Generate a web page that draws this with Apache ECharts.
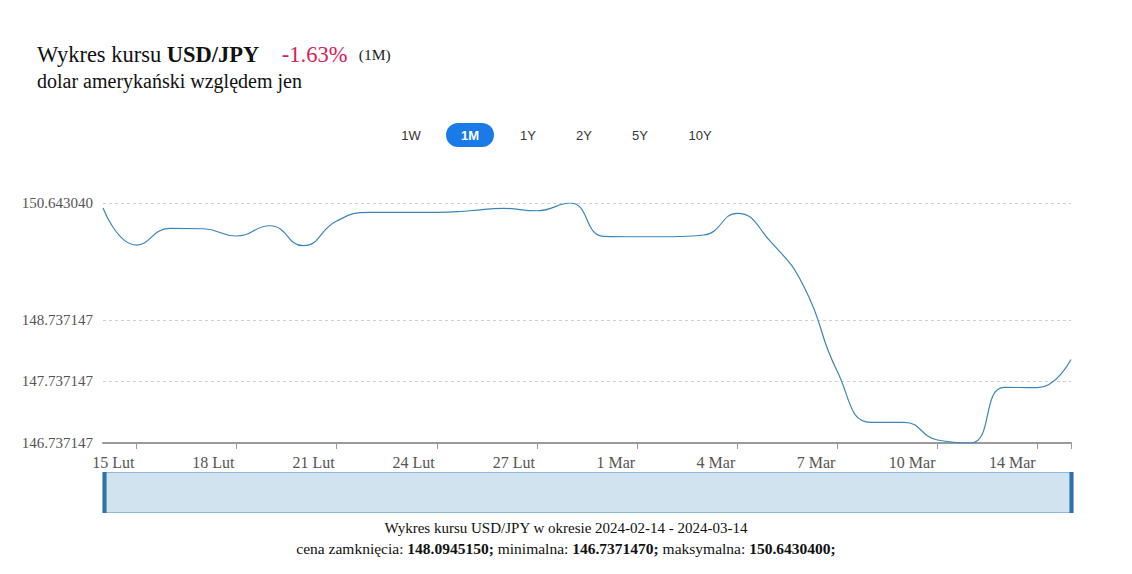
<!DOCTYPE html>
<html>
<head>
<meta charset="utf-8">
<script src="https://cdn.jsdelivr.net/npm/echarts@6/dist/echarts.min.js"></script>
<style>
html,body{margin:0;padding:0;background:#fff;}
#chart{width:1132px;height:574px;}
</style>
</head>
<body>
<div id="chart"></div>
<script>
const categories = ['14 Lut','15 Lut','16 Lut','17 Lut','18 Lut','19 Lut','20 Lut','21 Lut','22 Lut','23 Lut','24 Lut','25 Lut','26 Lut','27 Lut','28 Lut','29 Lut','1 Mar','2 Mar','3 Mar','4 Mar','5 Mar','6 Mar','7 Mar','8 Mar','9 Mar','10 Mar','12 Mar','13 Mar','14 Mar','15 Mar'];
const rates = [150.561,149.959,150.231,150.224,150.106,150.273,149.948,150.350,150.491,150.490,150.490,150.517,150.556,150.517,150.64304,150.101,150.094,150.094,150.122,150.475,150.013,149.281,147.900,147.074,147.074,146.786,146.737147,147.643,147.637,148.094515];
const yTicks = [146.737147,147.737147,148.737147,150.64304];
const rangeButtons = ['1W','1M','1Y','2Y','5Y','10Y'];
const activeRange = '1M';
const serif = '"Liberation Serif", "DejaVu Serif", serif';
const sans = '"Liberation Sans", Arial, sans-serif';

const chart = echarts.init(document.getElementById('chart'), null, {renderer:'svg'});

const btnX = [411,470,528,584,640,700];
const buttons = rangeButtons.map((b,i)=>{
  const active = b===activeRange;
  const children = [];
  if (active) children.push({type:'rect', shape:{x:btnX[i]-24,y:123,width:48,height:24,r:12}, style:{fill:'#1a7ae8'}});
  children.push({type:'text', x:btnX[i], y:135, style:{text:b, fill: active?'#fff':'#333', font:(active?'bold ':'')+'13px '+sans, align:'center', verticalAlign:'middle'}});
  return {type:'group', children};
});

const gridColor = '#cfcfcf';
const splitColors = [gridColor,gridColor,gridColor,'rgba(0,0,0,0)',gridColor];

function yLabel(v){
  const t = yTicks.find(t=>Math.abs(t-v)<0.01);
  return t===undefined ? '' : t.toFixed(6);
}

chart.setOption({
  animation:false,
  title:[
    {left:32, top:38, padding:5, text:'Wykres kursu {b|USD/JPY}    {r|-1.63%}  {s|(1M)}',
      textStyle:{fontFamily:serif, fontSize:22.5, fontWeight:'normal', color:'#111',
        rich:{b:{fontFamily:serif,fontSize:22.5,fontWeight:'bold',color:'#111'},
              r:{fontFamily:serif,fontSize:22.5,color:'#d6215a'},
              s:{fontFamily:serif,fontSize:15.5,color:'#222'}}}},
    {left:32, top:66, padding:5, text:'dolar amerykański względem jen', textStyle:{fontFamily:serif,fontSize:20,fontWeight:'normal',color:'#111'}},
    {left:'center', top:515, text:'Wykres kursu USD/JPY w okresie 2024-02-14 - 2024-03-14', textStyle:{fontFamily:serif,fontSize:15,fontWeight:'normal',color:'#111'}},
    {left:'center', top:535, text:'cena zamknięcia: {b|148.0945150;} minimalna: {b|146.7371470;} maksymalna: {b|150.6430400;}',
      textStyle:{fontFamily:serif,fontSize:15.5,fontWeight:'normal',color:'#111',
        rich:{b:{fontFamily:serif,fontSize:15.5,fontWeight:'bold',color:'#111'}}}}
  ],
  graphic: buttons,
  grid:{left:103, right:61, top:203, bottom:131, containLabel:false},
  xAxis:{
    type:'category', data:categories, boundaryGap:false,
    axisLine:{lineStyle:{color:'#9a9a9a', width:2}},
    axisTick:{interval:(i)=> i%3===1 || i===categories.length-1, length:6, lineStyle:{color:'#9a9a9a'}},
    axisLabel:{interval:(i)=> i%3===1, align:'right', margin:11, padding:[0,2,0,0], fontFamily:serif, fontSize:16, color:'#555'},
    splitLine:{show:false}
  },
  yAxis:{
    type:'value', min:yTicks[0], max:yTicks[yTicks.length-1], interval:1,
    axisLine:{show:false}, axisTick:{show:false},
    axisLabel:{margin:10, fontFamily:serif, fontSize:15, color:'#555', formatter:yLabel},
    splitLine:{show:true, lineStyle:{color:splitColors, type:[3,3], width:1}}
  },
  dataZoom:[{
    type:'slider', xAxisIndex:0, start:0, end:100,
    left:101, right:62, top:472, height:41,
    showDetail:false, brushSelect:false,
    backgroundColor:'rgba(0,0,0,0)',
    fillerColor:'rgba(176,208,228,0.6)',
    borderColor:'#8fb8d8',
    dataBackground:{lineStyle:{opacity:0}, areaStyle:{opacity:0}},
    selectedDataBackground:{lineStyle:{opacity:0}, areaStyle:{opacity:0}},
    handleIcon:'path://M0,0 L4,0 L4,40 L0,40 Z M1,17 L3,17 L3,23 L1,23 Z',
    handleSize:'100%',
    handleStyle:{color:'#2c72ad', borderColor:'#2c72ad', borderWidth:0},
    moveHandleSize:0,
    emphasis:{handleStyle:{color:'#2c72ad'}}
  }],
  series:[{
    type:'line', data:rates, smooth:true, showSymbol:false, symbol:'none',
    lineStyle:{color:'#3a86ba', width:1.2},
    itemStyle:{color:'#3a86ba'}
  }]
});
</script>
</body>
</html>
